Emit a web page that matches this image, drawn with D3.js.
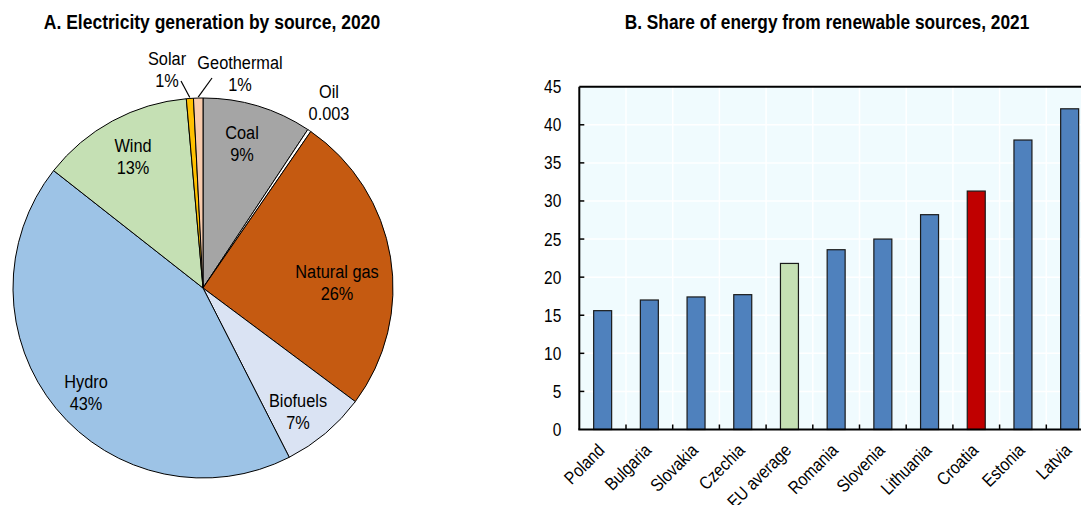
<!DOCTYPE html>
<html>
<head>
<meta charset="utf-8">
<script src="https://cdn.jsdelivr.net/npm/d3@7"></script>
<style>
  html, body { margin: 0; padding: 0; background: #fff; }
  svg { display: block; font-family: "Liberation Sans", Arial, sans-serif; }
</style>
</head>
<body>
<svg id="chart" width="1081" height="505"></svg>
<script>
// ---------- Data: Panel A (pie) ----------
const pieSources = ["Coal", "Oil", "Natural gas", "Biofuels", "Hydro", "Wind", "Solar", "Geothermal"];
const pieValues  = [9.3, 0.3, 25.6, 7.3, 43.1, 13.0, 0.6, 0.8];
const pieLabels  = ["9%", "0.003", "26%", "7%", "43%", "13%", "1%", "1%"];
const pieColors  = ["#A5A5A5", "#FFFFFF", "#C55A11", "#DAE3F3", "#9DC3E6", "#C5E0B4", "#FFC000", "#F8CBAD"];

// ---------- Data: Panel B (bars) ----------
const barCountries = ["Poland", "Bulgaria", "Slovakia", "Czechia", "EU average", "Romania", "Slovenia", "Lithuania", "Croatia", "Estonia", "Latvia"];
const barValues    = [15.6, 17.0, 17.4, 17.7, 21.8, 23.6, 25.0, 28.2, 31.3, 38.0, 42.1];
const yTicks       = [0, 5, 10, 15, 20, 25, 30, 35, 40, 45];

const svg = d3.select("#chart");
const SX = 0.86; // horizontal text compression

function txt(g, x, y, s, opts = {}) {
  const sx = opts.sx || SX;
  const t = g.append("text")
    .attr("transform", `translate(${x},${y})${opts.rotate ? ` rotate(${opts.rotate})` : ""} scale(${sx},1)`)
    .attr("text-anchor", opts.anchor || "middle")
    .attr("font-size", opts.size || 18)
    .attr("font-weight", opts.weight || "normal")
    .attr("fill", "#000")
    .text(s);
  return t;
}

// ---------- Titles ----------
txt(svg, 212, 29, "A. Electricity generation by source, 2020", { size: 20, weight: "bold", sx: 0.875 });
txt(svg, 827, 29, "B. Share of energy from renewable sources, 2021", { size: 20, weight: "bold", sx: 0.865 });

// ---------- Panel A: pie ----------
const pcx = 203, pcy = 288, R = 190;
const gp = svg.append("g").attr("transform", `translate(${pcx},${pcy})`);
const pie = d3.pie().sort(null).value(d => d)(pieValues);
const arc = d3.arc().innerRadius(0).outerRadius(R);
gp.selectAll("path.slice").data(pie).enter().append("path")
  .attr("class", "slice")
  .attr("d", arc)
  .attr("fill", (d, i) => pieColors[i])
  .attr("stroke", "#000")
  .attr("stroke-width", 1);

// label layout (baseline offsets from pie centre) - layout only
const labelLayout = {
  "Coal":        [39, -149],
  "Oil":         [126, -190],
  "Natural gas": [134, -10],
  "Biofuels":    [95, 119],
  "Hydro":       [-117, 100],
  "Wind":        [-70, -136],
  "Solar":       [-36, -223],
  "Geothermal":  [37, -219]
};
pie.forEach((d, i) => {
  const name = pieSources[i];
  const [lx, ly] = labelLayout[name];
  txt(gp, lx, ly, name, { size: 19 });
  txt(gp, lx, ly + 22, pieLabels[i], { size: 19 });
});
// leader lines for Solar and Geothermal
const leaderStart = { "Solar": [-22, -207], "Geothermal": [9, -210] };
["Solar", "Geothermal"].forEach(name => {
  const i = pieSources.indexOf(name);
  const d = pie[i];
  const a = (d.startAngle + d.endAngle) / 2;
  const ex = Math.sin(a) * (R + 1), ey = -Math.cos(a) * (R + 1);
  const [sx, sy] = leaderStart[name];
  gp.append("line").attr("x1", sx).attr("y1", sy).attr("x2", ex).attr("y2", ey)
    .attr("stroke", "#000").attr("stroke-width", 1.2);
});

// ---------- Panel B: bars ----------
const x0 = 579.3, band = 46.7;
const yTop = 86.7, yBot = 429.5;
const xEnd = x0 + band * barCountries.length;
const x = d3.scaleBand().domain(barCountries).range([x0, xEnd]).paddingInner(0.615).paddingOuter(0.3075);
const y = d3.scaleLinear().domain([0, 45]).range([yBot, yTop]);
const gb = svg.append("g");

// background
gb.append("rect").attr("x", x0).attr("y", yTop).attr("width", xEnd - x0).attr("height", yBot - yTop).attr("fill", "#F0FBFE");
// horizontal gridlines
gb.selectAll("line.hg").data(yTicks.slice(1, -1)).enter().append("line")
  .attr("x1", x0).attr("x2", xEnd)
  .attr("y1", d => y(d)).attr("y2", d => y(d))
  .attr("stroke", "#fff").attr("stroke-width", 1.5);
// vertical gridlines at band boundaries
const bounds = barCountries.map((c, i) => x0 + band * (i + 1));
gb.selectAll("line.vg").data(bounds).enter().append("line")
  .attr("x1", d => d).attr("x2", d => d)
  .attr("y1", yTop).attr("y2", yBot)
  .attr("stroke", "#fff").attr("stroke-width", 1.5);

// bars
const barColor = c => c === "Croatia" ? "#C00000" : (c === "EU average" ? "#C5E0B4" : "#4F81BD");
gb.selectAll("rect.bar").data(barCountries).enter().append("rect")
  .attr("class", "bar")
  .attr("x", d => x(d))
  .attr("width", x.bandwidth())
  .attr("y", (d, i) => y(barValues[i]))
  .attr("height", (d, i) => yBot - y(barValues[i]))
  .attr("fill", d => barColor(d))
  .attr("stroke", "#1a1a1a").attr("stroke-width", 1.2);

// frame lines
gb.append("line").attr("x1", x0).attr("x2", xEnd).attr("y1", yTop).attr("y2", yTop).attr("stroke", "#000").attr("stroke-width", 2);
gb.append("line").attr("x1", x0).attr("x2", x0).attr("y1", yTop).attr("y2", yBot).attr("stroke", "#000").attr("stroke-width", 2);
gb.append("line").attr("x1", x0 - 1).attr("x2", xEnd).attr("y1", yBot).attr("y2", yBot).attr("stroke", "#000").attr("stroke-width", 2);

// y ticks (inward) and labels
yTicks.forEach(v => {
  if (v > 0 && v < 45) {
    gb.append("line").attr("x1", x0).attr("x2", x0 + 5).attr("y1", y(v)).attr("y2", y(v)).attr("stroke", "#000").attr("stroke-width", 1.5);
  }
  txt(gb, x0 - 18, y(v) + 6.5, String(v), { size: 18 });
});
// fix anchors for y tick labels (right-aligned)
gb.selectAll("text").attr("text-anchor", "end");
// x ticks (inward) at band boundaries
bounds.forEach(b => {
  gb.append("line").attr("x1", b).attr("x2", b).attr("y1", yBot).attr("y2", yBot - 5).attr("stroke", "#000").attr("stroke-width", 1.5);
});
// x labels rotated
barCountries.forEach(c => {
  const cxp = x(c) + x.bandwidth() / 2;
  txt(gb, cxp + 3, yBot + 22, c, { size: 18, anchor: "end", rotate: -45 });
});
</script>
</body>
</html>
